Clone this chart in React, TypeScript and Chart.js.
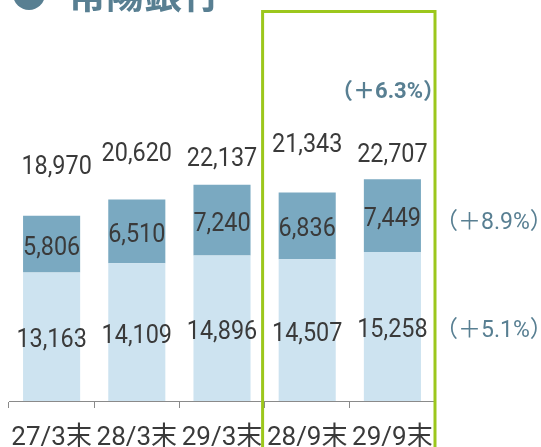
import React, { useEffect, useRef } from 'react';
import { Chart, registerables } from 'chart.js';

Chart.register(...registerables);

const categories = ['27/3末', '28/3末', '29/3末', '28/9末', '29/9末'];
const lowerValues = [13163, 14109, 14896, 14507, 15258];
const upperValues = [5806, 6510, 7240, 6836, 7449];
const totalValues = [18970, 20620, 22137, 21343, 22707];
const totalGrowth = '（＋6.3%）';
const upperGrowth = '（＋8.9%）';
const lowerGrowth = '（＋5.1%）';
const titleText = '常陽銀行';
const yMax = 39000;

// per-label vertical lift (px) of the total labels above the bar tops, as placed in the source
const totalLift = [51, 48, 28, 50, 27];
const totalShift = [5, 0, 0, 0, 0];

const FONT = 'Roboto, "Noto Sans CJK JP", sans-serif';
const TEXT = '#3a3a3a';
const ACCENT = '#587f92';
const fmt = (v: number) => v.toLocaleString('en-US');

const overlay = {
  id: 'overlay',
  afterDatasetsDraw(chart: any) {
    const ctx = chart.ctx as CanvasRenderingContext2D;
    const area = chart.chartArea;
    const lower = chart.getDatasetMeta(0).data;
    const upper = chart.getDatasetMeta(1).data;
    ctx.save();
    ctx.fillStyle = TEXT;
    ctx.textAlign = 'center';
    ctx.textBaseline = 'middle';
    ctx.font = `26px ${FONT}`;
    const drawCond = (t: string, x: number, y: number) => {
      ctx.save();
      ctx.translate(x, y);
      ctx.scale(0.9, 1);
      ctx.fillText(t, 0, 0);
      ctx.restore();
    };
    lower.forEach((el: any, i: number) => {
      const p = el.getProps(['x', 'y', 'base'], true);
      drawCond(fmt(lowerValues[i]), p.x, (p.y + p.base) / 2 + 4);
    });
    upper.forEach((el: any, i: number) => {
      const p = el.getProps(['x', 'y', 'base'], true);
      drawCond(fmt(upperValues[i]), p.x, (p.y + p.base) / 2 + 4);
      drawCond(fmt(totalValues[i]), p.x + totalShift[i], p.y - totalLift[i] + 3);
    });

    // growth labels
    const last = upper[upper.length - 1].getProps(['x', 'y', 'base'], true);
    const lastLow = lower[lower.length - 1].getProps(['x', 'y', 'base'], true);
    ctx.fillStyle = ACCENT;
    ctx.textAlign = 'left';
    ctx.font = `23px ${FONT}`;
    ctx.fillText(upperGrowth, area.right, (last.y + last.base) / 2 + 8);
    ctx.fillText(lowerGrowth, area.right, (lastLow.y + lastLow.base) / 2 + 5);
    ctx.textAlign = 'right';
    ctx.font = `bold 22px ${FONT}`;
    ctx.fillText(totalGrowth, area.right + 10, 92);
    ctx.restore();
  },
  afterDraw(chart: any) {
    const ctx = chart.ctx as CanvasRenderingContext2D;
    const area = chart.chartArea;
    const lower = chart.getDatasetMeta(0).data;
    ctx.save();
    // highlight frame around the half-year columns
    const left = (lower[2].x + lower[3].x) / 2 - 2;
    ctx.strokeStyle = '#9cc71c';
    ctx.lineWidth = 3;
    ctx.beginPath();
    ctx.moveTo(left, chart.height + 5);
    ctx.lineTo(left, 11.5);
    ctx.lineTo(area.right, 11.5);
    ctx.lineTo(area.right, chart.height + 5);
    ctx.stroke();
    // title
    ctx.fillStyle = ACCENT;
    ctx.beginPath();
    ctx.arc(29, -6, 16, 0, Math.PI * 2);
    ctx.fill();
    ctx.font = `bold 38px "Noto Sans CJK JP", sans-serif`;
    ctx.textAlign = 'left';
    ctx.textBaseline = 'alphabetic';
    ctx.fillText(titleText, 68, 8);
    ctx.restore();
  },
};

export default function App() {
  const ref = useRef<HTMLCanvasElement | null>(null);
  useEffect(() => {
    if (!ref.current) return;
    const chart = new Chart(ref.current, {
      type: 'bar',
      data: {
        labels: categories,
        datasets: [
          {
            data: lowerValues,
            backgroundColor: '#cde3f0',
            borderWidth: 0,
            barPercentage: 0.67,
            categoryPercentage: 1,
          },
          {
            data: upperValues,
            backgroundColor: '#7aa9c1',
            borderWidth: 0,
            barPercentage: 0.67,
            categoryPercentage: 1,
          },
        ],
      },
      options: {
        animation: false,
        responsive: false,
        devicePixelRatio: 1,
        layout: { padding: { left: 9, right: 106, top: 20, bottom: 0 } },
        plugins: {
          legend: { display: false },
          tooltip: { enabled: false },
          title: { display: false },
        },
        scales: {
          x: {
            stacked: true,
            grid: {
              offset: true,
              drawOnChartArea: false,
              drawTicks: true,
              tickLength: 7,
              color: '#8a8a8a',
              lineWidth: 1,
            },
            border: { display: true, color: '#8a8a8a', width: 1 },
            ticks: {
              color: TEXT,
              font: { size: 26, family: FONT, lineHeight: 1.75 },
              padding: 8,
              maxRotation: 0,
              autoSkip: false,
            },
            afterFit: (s: any) => {
              s.height = 46;
            },
          },
          y: { stacked: true, display: false, min: 0, max: yMax },
        },
      },
      plugins: [overlay],
    });
    return () => chart.destroy();
  }, []);
  return (
    <div style={{ position: 'fixed', left: 0, top: 0, width: 541, height: 447 }}>
      <canvas ref={ref} width={541} height={447} style={{ width: 541, height: 447 }} />
    </div>
  );
}
